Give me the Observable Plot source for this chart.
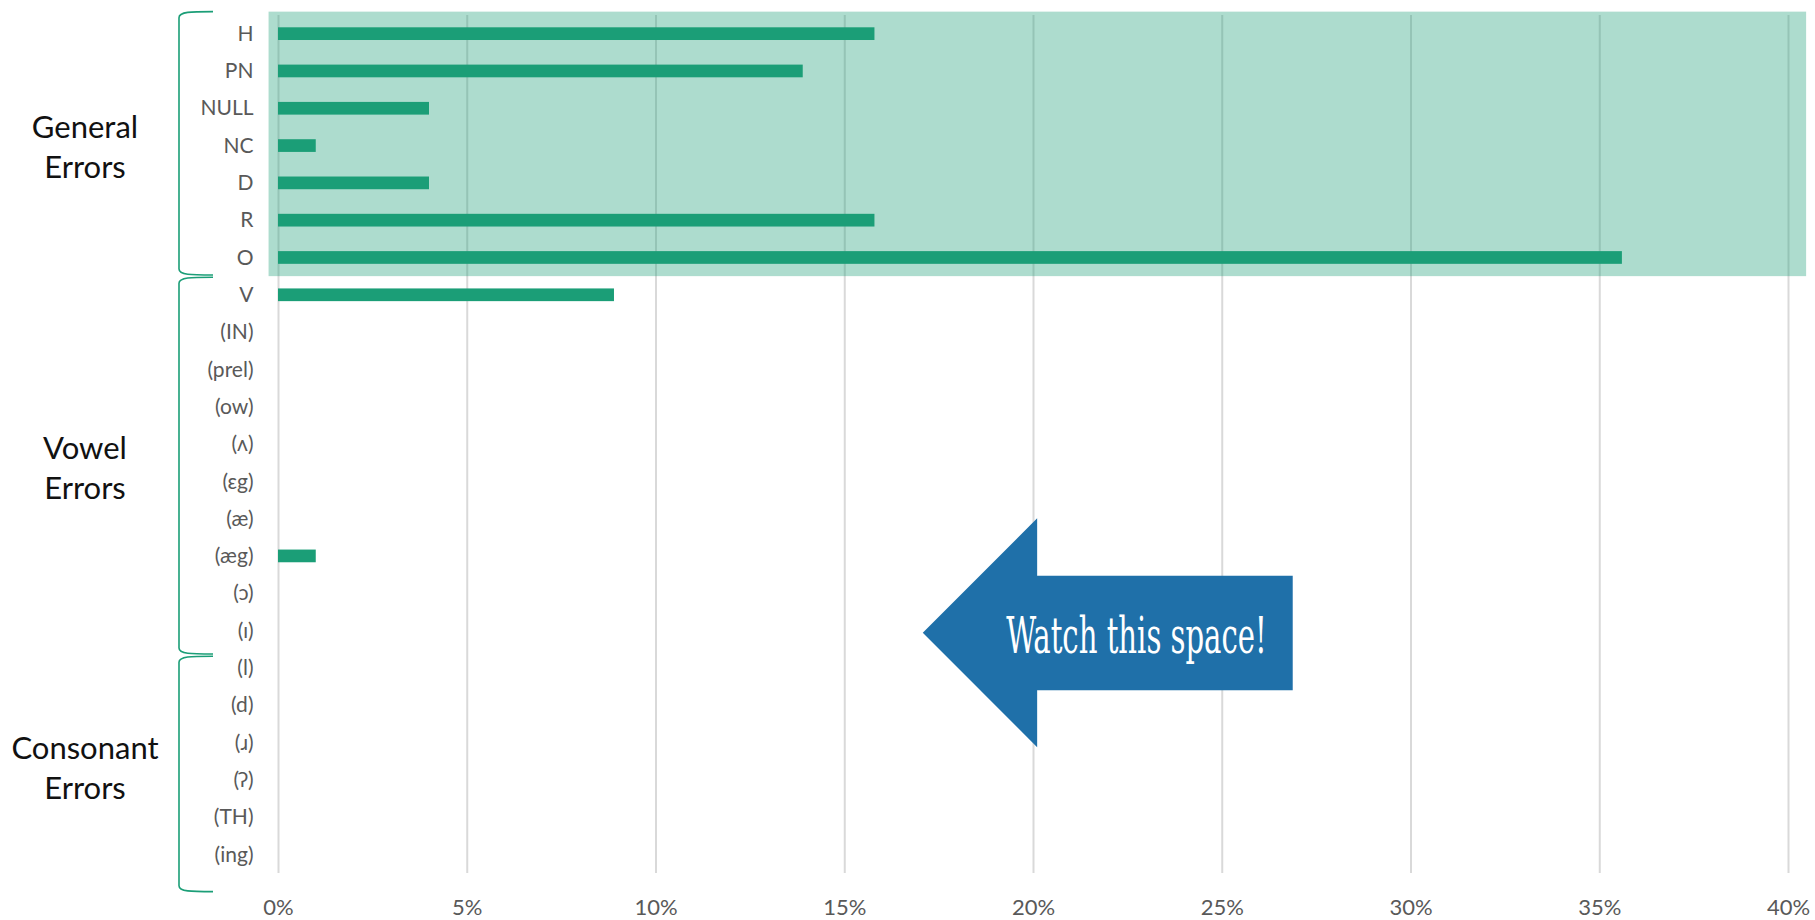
<!DOCTYPE html>
<html>
<head>
<meta charset="utf-8">
<script src="https://cdn.jsdelivr.net/npm/d3@7"></script>
<script src="https://cdn.jsdelivr.net/npm/@observablehq/plot@0.6"></script>
<style>
  html, body { margin: 0; padding: 0; background: #ffffff; }
  #chart svg { display: block; }
</style>
</head>
<body>
<div id="chart"></div>
<script>
// ---- data ----
const categories = ["H", "PN", "NULL", "NC", "D", "R", "O", "V", "(IN)", "(prel)", "(ow)", "(ʌ)", "(ɛg)", "(æ)", "(æg)", "(ɔ)", "(ɪ)", "(l)", "(d)", "(ɹ)", "(ʔ)", "(TH)", "(ing)"];
const values = [0.158, 0.139, 0.040, 0.010, 0.040, 0.158, 0.356, 0.089, 0, 0, 0, 0, 0, 0, 0.010, 0, 0, 0, 0, 0, 0, 0, 0];
const groupNames = [["General", "Errors"], ["Vowel", "Errors"], ["Consonant", "Errors"]];
const groupSizes = [7, 10, 6];
const xTicks = [0, 0.05, 0.10, 0.15, 0.20, 0.25, 0.30, 0.35, 0.40];
const calloutText = "Watch this space!";

const data = categories.map((c, i) => ({category: c, value: values[i]}));

function bandHelper(scales) {
  const y = scales.y;
  const y0 = y(categories[0]);
  const bw = y(categories[1]) - y(categories[0]);
  return (f) => y0 + f * bw;
}

// highlight box behind the General Errors rows
function highlight(index, scales) {
  const x = scales.x, Y = bandHelper(scales);
  const g = d3.create("svg:g");
  g.append("rect")
    .attr("x", x(-0.0025)).attr("width", x(0.4048) - x(-0.0025))
    .attr("y", Y(-0.09)).attr("height", Y(groupSizes[0]) - Y(-0.09))
    .attr("fill", "#1b9e77").attr("fill-opacity", 0.36);
  return g.node();
}

function overlays(index, scales) {
  const x = scales.x, Y = bandHelper(scales);
  const g = d3.create("svg:g");

  // group brackets + labels
  const spans = [[-0.09, 6.97], [7.03, 17.13], [17.19, 23.5]];
  const labelCenters = [3.52, 12.12, 20.15];
  const xv = 179, xe = 213;
  spans.forEach(([a, b], i) => {
    const t = Y(a), bt = Y(b);
    g.append("path")
      .attr("d", `M${xe},${t} C${xv + 12},${t} ${xv},${t} ${xv},${t + 6} L${xv},${bt - 6} C${xv},${bt} ${xv + 12},${bt} ${xe},${bt}`)
      .attr("fill", "none").attr("stroke", "#1b9e77").attr("stroke-width", 1.6);
    const c = Y(labelCenters[i]);
    groupNames[i].forEach((line, k) => {
      g.append("text")
        .attr("x", 85).attr("y", c + (k === 0 ? -20 : 20))
        .attr("text-anchor", "middle").attr("dominant-baseline", "central")
        .attr("font-family", "Lato, 'Open Sans', sans-serif").attr("font-size", 31)
        .attr("fill", "#111111").text(line);
    });
  });

  // callout arrow
  const arrow = [[0.2688, 15.03], [0.2011, 15.03], [0.2011, 13.49], [0.1708, 16.56],
                 [0.2011, 19.63], [0.2011, 18.10], [0.2688, 18.10]];
  g.append("path")
    .attr("d", "M" + arrow.map(([a, b]) => `${x(a)},${Y(b)}`).join("L") + "Z")
    .attr("fill", "#1f70a9");
  g.append("text")
    .attr("x", x(0.1929)).attr("y", Y(17.11))
    .attr("text-anchor", "start")
    .attr("font-family", "'DejaVu Serif', 'Liberation Serif', serif")
    .attr("font-stretch", "condensed")
    .attr("font-size", 50).attr("fill", "#ffffff")
    .attr("textLength", x(0.2619) - x(0.1929)).attr("lengthAdjust", "spacingAndGlyphs")
    .text(calloutText);
  return g.node();
}

const chart = Plot.plot({
  width: 1815,
  height: 920,
  marginLeft: 278,
  marginRight: 27,
  marginTop: 15,
  marginBottom: 47,
  style: {fontFamily: "Lato, 'Open Sans', sans-serif", color: "#595959", background: "#ffffff", overflow: "visible"},
  x: {domain: [0, 0.40], label: null},
  y: {domain: categories, padding: 0, round: false, label: null},
  marks: [
    Plot.gridX(xTicks, {stroke: "#d9d9d9", strokeOpacity: 1, strokeWidth: 2}),
    highlight,
    Plot.barX(data, {x: "value", y: "category", fill: "#1b9e77", insetTop: 12.3, insetBottom: 12.3}),
    Plot.axisY({tickSize: 0, tickPadding: 25, fontSize: 21, label: null}),
    Plot.axisX(xTicks, {tickSize: 0, tickPadding: 26, fontSize: 22, tickFormat: d3.format(".0%"), label: null}),
    overlays
  ]
});
document.getElementById("chart").appendChild(chart);
</script>
</body>
</html>
